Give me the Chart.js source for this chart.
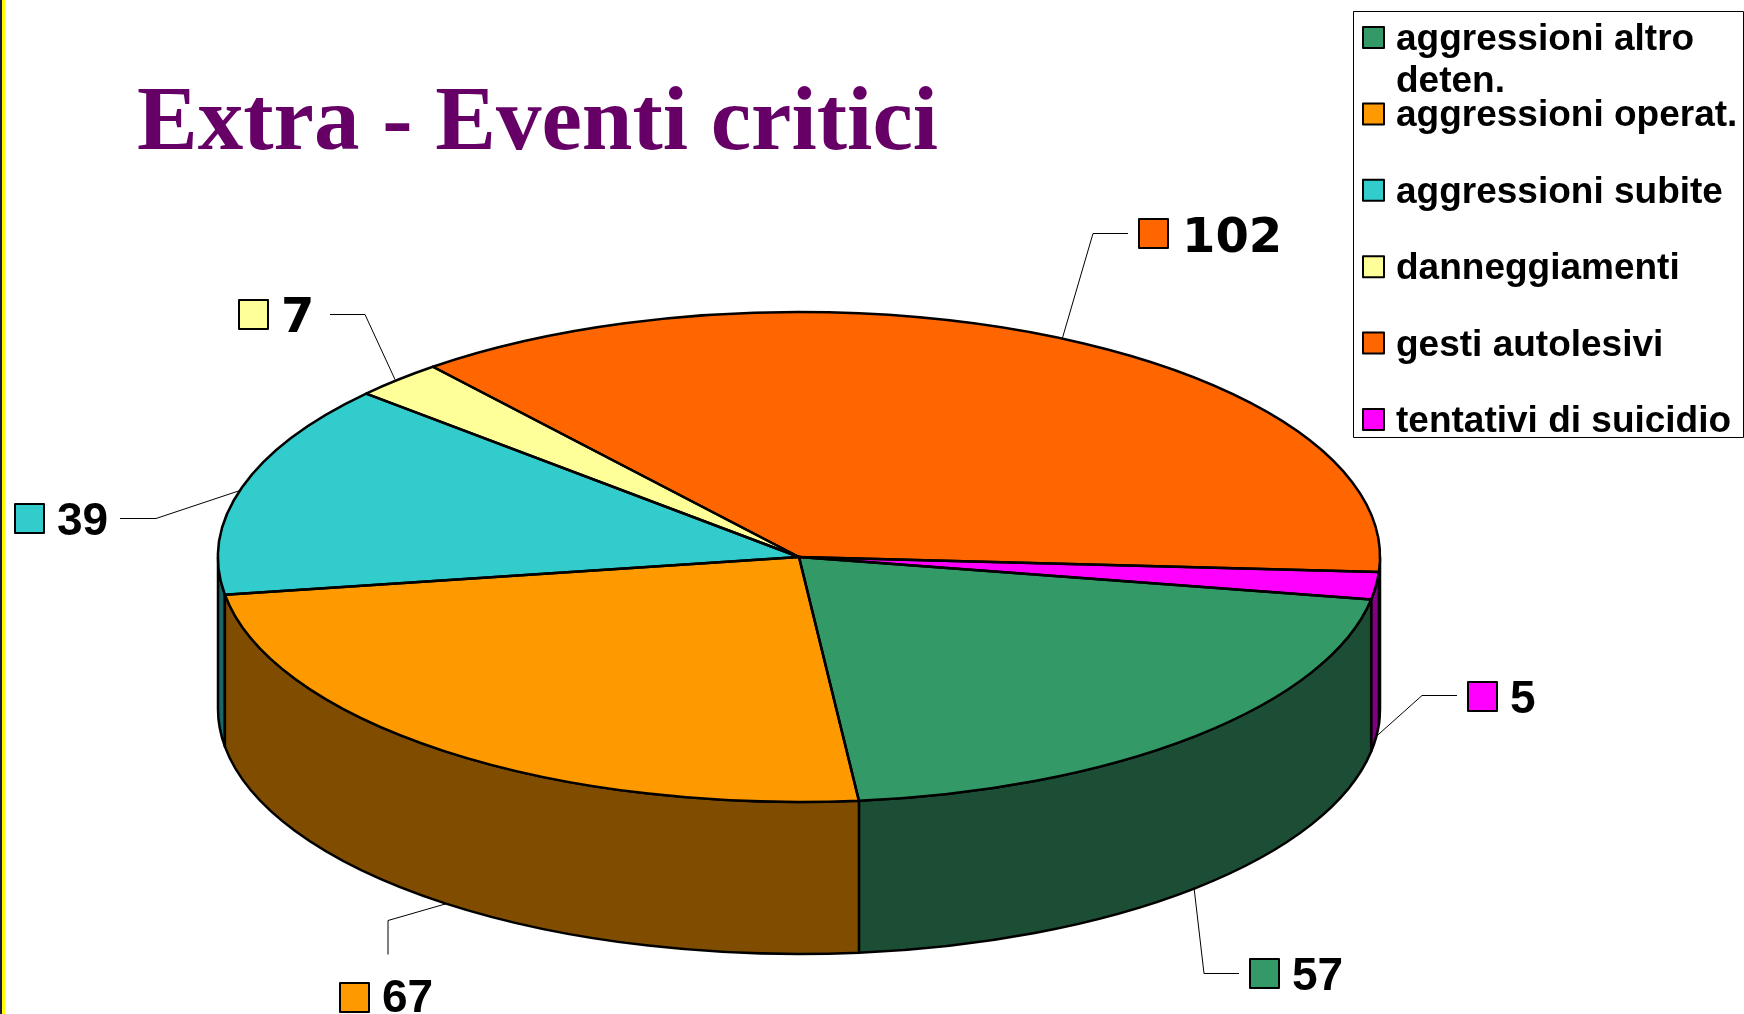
<!DOCTYPE html>
<html>
<head>
<meta charset="utf-8">
<style>
html,body{margin:0;padding:0;background:#fff;overflow:hidden}
#wrap{position:absolute;left:0;top:0;width:1744px;height:1014px}
#strip{position:absolute;left:0;top:0;width:2px;height:1014px;background:#1a1a4d}
#strip2{position:absolute;left:2px;top:0;width:3px;height:1014px;background:#ffff00}
</style>
</head>
<body>
<div id="wrap"><canvas id="c" width="1744" height="1014"></canvas></div>
<div id="strip"></div><div id="strip2"></div>
<script src="https://cdn.jsdelivr.net/npm/chart.js@4/dist/chart.umd.min.js"></script>
<script>
const titleText = "Extra - Eventi critici";
const categories = ["aggressioni altro deten.", "aggressioni operat.", "aggressioni subite", "danneggiamenti", "gesti autolesivi", "tentativi di suicidio"];
const values = [57, 67, 39, 7, 102, 5];
const topColors = ["#339966", "#FF9900", "#33CCCC", "#FFFF99", "#FF6600", "#FF00FF"];
const wallColors = ["#1C4D35", "#804D00", "#1A6666", "#808050", "#803300", "#800080"];

// Page layout of the tilted pie
const PIE = {cx: 799, cy: 557, rx: 581, ry: 245, depth: 152};
const ROTATION = 100;
// Label layout: swatch box, text origin, font, leader polyline
const SANS = '"Liberation Sans"', VERD = '"DejaVu Sans"';
const labelLayout = [
  {sw:[1250,959], tx:[1292,990], font:`bold 46px ${SANS}`, line:[[1239,973],[1204,973],[1194,887]]},
  {sw:[340,983],  tx:[382,1012], font:`bold 46px ${SANS}`, line:[[388,954],[388,920],[447,903]]},
  {sw:[15,504],   tx:[57,535],   font:`bold 46px ${SANS}`, line:[[120,518],[156,518],[240,490]]},
  {sw:[239,300],  tx:[281,332],  font:`bold 48px ${VERD}`, line:[[330,314],[365,314],[395,379]]},
  {sw:[1139,219], tx:[1182,252], font:`bold 48px ${VERD}`, line:[[1128,233],[1093,233],[1062,339]]},
  {sw:[1468,682], tx:[1510,713], font:`bold 46px ${SANS}`, line:[[1457,695],[1422,695],[1375,737]]}
];
const legendBox = {x:1353.5, y:11.5, w:390, h:426, swX:1363, swY:27, swS:21, step:76.4, textX:1396, baseOff:23, font:`bold 37px ${SANS}`, lineH:42, wrap:350};

function ellipsePath(ctx, cy, a, b, ccw){ ctx.ellipse(PIE.cx, cy, PIE.rx, PIE.ry, 0, a, b, !!ccw); }

const tiltPlugin = {
  id: 'tilt',
  beforeDatasetsDraw(chart){
    const ctx = chart.ctx, arcs = chart.getDatasetMeta(0).data, TAU = Math.PI*2;
    // side walls, built from the library's arc angles
    const parts = [];
    arcs.forEach((arc,i)=>{
      for (const k of [-1,0,1]) {
        const a = Math.max(arc.startAngle + k*TAU, 0), b = Math.min(arc.endAngle + k*TAU, Math.PI);
        if (b > a) parts.push({a,b,i});
      }
    });
    parts.sort((p,q)=>Math.abs(q.a+q.b-Math.PI)-Math.abs(p.a+p.b-Math.PI));
    parts.forEach(p=>{
      ctx.beginPath();
      ellipsePath(ctx, PIE.cy, p.a, p.b);
      ellipsePath(ctx, PIE.cy+PIE.depth, p.b, p.a, true);
      ctx.closePath();
      ctx.fillStyle = wallColors[p.i];
      ctx.fill();
      ctx.lineWidth = 2.5; ctx.strokeStyle = '#000'; ctx.lineJoin='round';
      ctx.stroke();
    });
    // squash the library's circular pie into the tilted ellipse
    const c = arcs[0], R = c.outerRadius;
    ctx.save();
    ctx.translate(PIE.cx, PIE.cy);
    ctx.scale(PIE.rx/R, PIE.ry/R);
    ctx.translate(-c.x, -c.y);
  },
  afterDatasetsDraw(chart){
    const ctx = chart.ctx, arcs = chart.getDatasetMeta(0).data;
    ctx.restore();
    // even outlines on the top face
    arcs.forEach(arc=>{
      ctx.beginPath();
      ctx.moveTo(PIE.cx, PIE.cy);
      ellipsePath(ctx, PIE.cy, arc.startAngle, arc.endAngle);
      ctx.closePath();
      ctx.lineWidth = 2.5; ctx.strokeStyle = '#000'; ctx.lineJoin='round';
      ctx.stroke();
    });
    drawLabels(ctx);
    drawLegend(ctx);
  }
};

function swatch(ctx,x,y,s,color){
  ctx.fillStyle = color; ctx.fillRect(x,y,s,s);
  ctx.lineWidth = 2; ctx.strokeStyle = '#000'; ctx.strokeRect(x,y,s,s);
}
function drawLabels(ctx){
  ctx.textAlign='left'; ctx.textBaseline='alphabetic';
  labelLayout.forEach((l,i)=>{
    ctx.beginPath();
    l.line.forEach((p,j)=> j?ctx.lineTo(p[0],p[1]+.5):ctx.moveTo(p[0],p[1]+.5));
    ctx.lineWidth=1; ctx.strokeStyle='#000'; ctx.stroke();
    swatch(ctx,l.sw[0],l.sw[1],29,topColors[i]);
    ctx.fillStyle='#000'; ctx.font=l.font;
    ctx.fillText(String(values[i]), l.tx[0], l.tx[1]);
  });
}
function drawLegend(ctx){
  const L = legendBox;
  ctx.fillStyle='#fff'; ctx.fillRect(L.x,L.y,L.w,L.h);
  ctx.lineWidth=1; ctx.strokeStyle='#000'; ctx.strokeRect(L.x,L.y,L.w,L.h);
  ctx.font=L.font; ctx.textAlign='left'; ctx.textBaseline='alphabetic';
  categories.forEach((name,i)=>{
    const y = L.swY + i*L.step;
    swatch(ctx,L.swX,y,L.swS,topColors[i]);
    ctx.fillStyle='#000';
    let line='', row=0;
    name.split(' ').forEach(w=>{
      const t = line? line+' '+w : w;
      if (ctx.measureText(t).width > L.wrap && line){
        ctx.fillText(line,L.textX,y+L.baseOff+row*L.lineH); row++; line=w;
      } else line=t;
    });
    ctx.fillText(line,L.textX,y+L.baseOff+row*L.lineH);
  });
}

new Chart(document.getElementById('c'), {
  type:'pie',
  data:{labels:categories, datasets:[{data:values, backgroundColor:topColors, borderWidth:0, clip:false}]},
  options:{
    responsive:false, animation:false,
    rotation:ROTATION,
    layout:{padding:{left:137, top:0}},
    plugins:{
      legend:{display:false},
      tooltip:{enabled:false},
      title:{display:true, text:titleText, align:'start', color:'#660066',
        font:{family:'"Liberation Serif"', weight:'bold', size:91, lineHeight:1.2},
        padding:{top:71,bottom:0}}
    }
  },
  plugins:[tiltPlugin]
});
</script>
</body>
</html>
